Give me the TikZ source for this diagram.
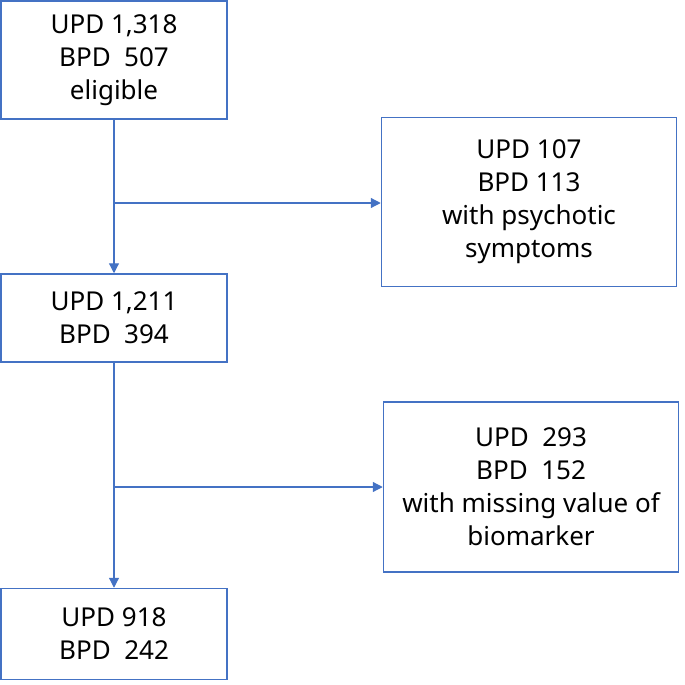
\documentclass[tikz,border=0pt]{standalone}
\usepackage{fontspec}
\setmainfont{Noto Sans}
\usetikzlibrary{arrows.meta}
\definecolor{lineblue}{HTML}{4472C4}
\begin{document}
\begin{tikzpicture}[x=1pt,y=-1pt,
  box/.style={draw=lineblue, line width=1.5pt, rectangle, align=center, inner sep=0pt,
    font=\fontsize{26}{33}\selectfont, text=black},
  arr/.style={draw=lineblue, line width=1.2pt, -{Triangle[length=10pt,width=10pt]}},
  ln/.style={draw=lineblue, line width=1.2pt}]
\useasboundingbox (0,0) rectangle (685,685);
\node[box, minimum width=226pt, minimum height=118pt] (b1) at (114,60) {UPD 1,318\\BPD\ \ 507\\eligible};
\node[box, minimum width=295pt, minimum height=169pt] (b2) at (529,202) {UPD 107\\BPD 113\\with psychotic\\symptoms};
\node[box, minimum width=226pt, minimum height=88pt] (b3) at (114,318) {UPD 1,211\\BPD\ \ 394};
\node[box, minimum width=295pt, minimum height=170pt] (b4) at (531,487) {UPD\ \ 293\\BPD\ \ 152\\with missing value of\\biomarker};
\node[box, minimum width=226pt, minimum height=91pt] (b5) at (114,634) {UPD 918\\BPD\ \ 242};
\coordinate (j1) at (114,203);
\coordinate (j2) at (114,487);
\draw[arr] (b1.south) -- (b3.north);
\draw[arr] (j1) -- (b2.west |- j1);
\draw[arr] (b3.south) -- (b5.north);
\draw[arr] (j2) -- (b4.west |- j2);
\end{tikzpicture}
\end{document}
